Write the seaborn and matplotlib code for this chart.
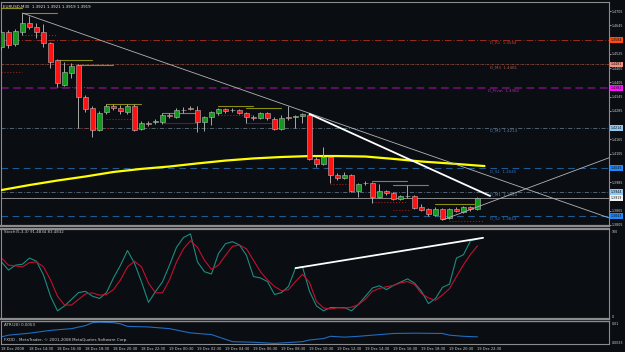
import numpy as np
import pandas as pd
import matplotlib
matplotlib.use("Agg")
import matplotlib.pyplot as plt
import matplotlib.transforms as mtrans
import seaborn as sns

# ---------------- data (EURUSD M30) ----------------
opens = [1.4554, 1.4617, 1.4567, 1.4617, 1.4655, 1.4638, 1.4617, 1.4571, 1.4499, 1.4394,
         1.4445, 1.4478, 1.4344, 1.4297, 1.4205, 1.4281, 1.4306, 1.4297, 1.4281, 1.4306,
         1.4209, 1.4234, 1.4238, 1.4238, 1.4268, 1.4260, 1.4289, 1.4297, 1.4289, 1.4238,
         1.4260, 1.4276, 1.4293, 1.4289, 1.4289, 1.4276, 1.4260, 1.4255, 1.4276, 1.4251,
         1.4209, 1.4260, 1.4260, 1.4264, 1.4268, 1.4083, 1.4062, 1.4091, 1.4015, 1.4003,
         1.4015, 1.3948, 1.3982, 1.3982, 1.3923, 1.3948, 1.3939, 1.3914, 1.3927, 1.3927,
         1.3881, 1.3872, 1.3847, 1.3872, 1.3834, 1.3872, 1.3859, 1.3881, 1.3872]
highs = [1.4626, 1.4626, 1.4630, 1.4697, 1.4685, 1.4655, 1.4651, 1.4575, 1.4504, 1.4491,
         1.4487, 1.4483, 1.4352, 1.4306, 1.4285, 1.4314, 1.4314, 1.4310, 1.4314, 1.4314,
         1.4243, 1.4243, 1.4251, 1.4276, 1.4276, 1.4297, 1.4302, 1.4306, 1.4306, 1.4264,
         1.4285, 1.4297, 1.4297, 1.4297, 1.4293, 1.4281, 1.4268, 1.4281, 1.4281, 1.4260,
         1.4268, 1.4306, 1.4268, 1.4276, 1.4272, 1.4091, 1.4133, 1.4095, 1.4024, 1.4028,
         1.4019, 1.3982, 1.3990, 1.3986, 1.3977, 1.3952, 1.3944, 1.3931, 1.3973, 1.3931,
         1.3893, 1.3876, 1.3881, 1.3876, 1.3876, 1.3881, 1.3885, 1.3885, 1.3923]
lows = [1.4542, 1.4550, 1.4558, 1.4605, 1.4630, 1.4592, 1.4554, 1.4466, 1.4386, 1.4390,
        1.4424, 1.4213, 1.4281, 1.4175, 1.4200, 1.4272, 1.4289, 1.4272, 1.4272, 1.4200,
        1.4205, 1.4222, 1.4230, 1.4230, 1.4255, 1.4255, 1.4276, 1.4289, 1.4196, 1.4200,
        1.4226, 1.4268, 1.4276, 1.4281, 1.4272, 1.4234, 1.4247, 1.4251, 1.4247, 1.4205,
        1.4205, 1.4247, 1.4213, 1.4234, 1.4078, 1.4049, 1.4057, 1.3982, 1.3994, 1.3998,
        1.3944, 1.3923, 1.3973, 1.3897, 1.3918, 1.3931, 1.3910, 1.3910, 1.3918, 1.3872,
        1.3864, 1.3843, 1.3843, 1.3826, 1.3830, 1.3859, 1.3855, 1.3864, 1.3868]
closes = [1.4617, 1.4563, 1.4621, 1.4655, 1.4638, 1.4617, 1.4571, 1.4491, 1.4403, 1.4449,
          1.4474, 1.4344, 1.4293, 1.4205, 1.4276, 1.4306, 1.4297, 1.4285, 1.4306, 1.4205,
          1.4234, 1.4232, 1.4240, 1.4268, 1.4264, 1.4289, 1.4287, 1.4293, 1.4238, 1.4260,
          1.4281, 1.4293, 1.4285, 1.4287, 1.4276, 1.4260, 1.4257, 1.4276, 1.4255, 1.4209,
          1.4255, 1.4255, 1.4264, 1.4272, 1.4083, 1.4062, 1.4091, 1.4015, 1.4003, 1.4015,
          1.3948, 1.3977, 1.3980, 1.3923, 1.3948, 1.3939, 1.3914, 1.3927, 1.3925, 1.3876,
          1.3868, 1.3851, 1.3872, 1.3830, 1.3872, 1.3864, 1.3881, 1.3872, 1.3919]

# 100-period moving average (yellow), read at sampled bars
ma_bars = [0, 4, 8, 12, 16, 20, 24, 28, 32, 36, 40, 44, 48, 52, 56, 60, 64, 68, 69]
ma_vals = [1.3952, 1.3973, 1.3992, 1.4009, 1.4028, 1.4041, 1.4051, 1.4064, 1.4076, 1.4085,
           1.4091, 1.4095, 1.4095, 1.4093, 1.4083, 1.4072, 1.4064, 1.4055, 1.4053]

# daily pivot levels
level_names = ["D_R1", "D_M3", "D_Pivot", "D_M2", "D_S1", "D_M1", "D_S2"]
level_prices = [1.4584, 1.4481, 1.4382, 1.4214, 1.4045, 1.3944, 1.3843]
bid_price = 1.3919

# price-axis tick labels
price_ticks = [1.4705, 1.4645, 1.4525, 1.4465, 1.4405, 1.4345, 1.4285,
               1.4165, 1.4105, 1.3985, 1.3865, 1.3805]

# short session high/low segments
seg_start = [0, 0, 3, 3, 8, 11, 8, 11, 15, 15, 23, 23, 31, 35, 31, 35, 47, 53, 53, 56, 56, 62, 64]
seg_end = [3, 3, 8, 8, 13, 16, 13, 16, 20, 19, 28, 28, 36, 40, 36, 38.5, 49.5, 58, 58, 61, 58.5, 67.5, 69]
seg_price = [1.4718, 1.4449, 1.4697, 1.4605, 1.4499, 1.4478, 1.4386, 1.4213, 1.4314, 1.4251,
             1.4276, 1.4234, 1.4306, 1.4297, 1.4268, 1.4234, 1.3977, 1.3990, 1.3902, 1.3973,
             1.3868, 1.3893, 1.3822]
seg_kind = ["hi", "lo", "hi", "lo", "hi", "hi", "lo", "lo", "hi", "lo",
            "mid", "pur", "hi", "hi", "lo", "pur", "lo", "mid", "lo", "mid",
            "lo", "hi", "lo"]

# trend lines (bar, price) anchors
trend_down_bars = [3, 41]
trend_down_prices = [1.4697, 1.4306]
trend_up_bars = [63, 68]
trend_up_prices = [1.3826, 1.3881]
trend_white_bars = [44, 69.8]
trend_white_prices = [1.4272, 1.3927]

# Stochastic(5,3,3)
stoch_k = [64.3, 54.7, 60.5, 61.6, 69.0, 65.1, 48.8, 23.6, 6.2, 12.0,
           19.8, 27.9, 29.4, 23.6, 20.9, 27.9, 45.3, 60.5, 77.9, 62.8,
           40.7, 16.3, 29.1, 40.7, 60.5, 81.7, 93.4, 97.7, 64.3, 52.7,
           50.0, 74.4, 86.0, 88.4, 84.5, 72.1, 46.9, 45.3, 41.0, 25.6,
           27.9, 35.2, 57.0, 58.5, 29.4, 12.0, 6.2, 10.1, 10.1, 10.1,
           6.2, 14.0, 23.6, 33.4, 36.0, 31.4, 36.4, 40.3, 44.2, 39.2,
           29.4, 14.8, 20.9, 34.1, 38.0, 69.0, 72.9, 89.5, 91.4834]
stoch_d = [69.0, 60.5, 59.7, 58.5, 63.6, 64.3, 58.5, 43.0, 23.6, 13.1,
           13.1, 19.8, 26.4, 27.6, 24.8, 25.6, 31.4, 43.0, 58.5, 65.1,
           58.5, 39.2, 27.6, 27.6, 43.0, 64.3, 79.9, 89.5, 81.7, 66.3,
           55.5, 60.5, 72.1, 82.9, 84.5, 79.9, 66.3, 52.7, 43.0, 35.2,
           30.2, 31.4, 41.0, 49.7, 40.0, 17.4, 9.7, 8.4, 9.8, 9.5,
           10.5, 13.6, 20.3, 29.4, 32.9, 34.9, 36.4, 39.5, 41.0, 37.6,
           26.7, 21.5, 18.8, 25.0, 32.6, 47.0, 61.0, 73.3, 83.4832]
stoch_trend_bars = [42, 68.8]
stoch_trend_vals = [57.0, 93.0]

# ATR(20)
atr_bars = [0, 1, 4, 7, 10, 12, 13, 14, 16, 17, 18, 21, 24, 27, 30, 33, 36, 39, 43, 44,
            46, 47, 49, 51, 53, 56, 59, 63, 64, 66, 68]
atr_vals = [0.0053, 0.0059, 0.0066, 0.0076, 0.0082, 0.0093, 0.0103, 0.0105, 0.0103, 0.0099,
            0.0090, 0.0088, 0.0082, 0.0067, 0.0061, 0.0036, 0.0034, 0.0030, 0.0036, 0.0042,
            0.0047, 0.0055, 0.0052, 0.0055, 0.0059, 0.0065, 0.0066, 0.0065, 0.0059, 0.0055,
            0.0053]

time_tick_bars = list(range(0, 69, 4))
time_labels = ["18 Dec 2008", "18 Dec 14:30", "18 Dec 16:30", "18 Dec 18:30", "18 Dec 20:30",
               "18 Dec 22:30", "19 Dec 00:30", "19 Dec 02:30", "19 Dec 04:30", "19 Dec 06:30",
               "19 Dec 08:30", "19 Dec 10:30", "19 Dec 12:30", "19 Dec 14:30", "19 Dec 16:30",
               "19 Dec 18:30", "19 Dec 20:30", "19 Dec 22:30"]

# ---------------- styling ----------------
sns.set_style("dark")
plt.rcParams['font.family'] = ['DejaVu Sans']
BG = '#0a0d12'
FS = 2.9
RFS = 2.3
TXT = '#d0d0d0'

fig = plt.figure(figsize=(6.25, 3.52), dpi=100, facecolor=BG)
L = 1 / 625
Wd = 608 / 625
ax = fig.add_axes([L, 1 - 226 / 352, Wd, 224 / 352])
ax2 = fig.add_axes([L, 1 - 319 / 352, Wd, 90 / 352])
ax3 = fig.add_axes([L, 1 - 344 / 352, Wd, 23 / 352])
XL = (-0.07, 86.79)
for a in (ax, ax2, ax3):
    a.set_facecolor(BG)
    a.set_xlim(XL)
    a.grid(False)
    for s in a.spines.values():
        s.set_color('#8c8c8c')
        s.set_linewidth(0.8)
ax.spines['bottom'].set_linewidth(1.6)
ax2.spines['top'].set_linewidth(1.6)
ax2.spines['bottom'].set_linewidth(1.6)
ax3.spines['top'].set_linewidth(1.0)
ax.set_ylim(1.380054, 1.474358)

df = pd.DataFrame(dict(bar=np.arange(len(opens)), o=opens, h=highs, l=lows, c=closes))
blend = mtrans.blended_transform_factory(ax.transAxes, ax.transData)

# pivot levels
lvl_style = {
    "D_R1": dict(color='#9a2a1e', dashes=(7, 2, 1, 2), lw=0.7, txt='#c0402a', box='#ff4a10'),
    "D_M3": dict(color='#8a4a3a', dashes=(3, 1, 1, 1), lw=0.6, txt='#a85a48', box='#f49080'),
    "D_Pivot": dict(color='#7a107a', dashes=(5, 3), lw=1.1, txt='#a030a0', box='#ff10ff'),
    "D_M2": dict(color='#5a7080', dashes=(5, 2, 1, 2), lw=0.6, txt='#4f80a8', box='#90c8f0'),
    "D_S1": dict(color='#1f5a90', dashes=(6, 4), lw=0.8, txt='#3070c0', box='#1e88ff'),
    "D_M1": dict(color='#5a7080', dashes=(5, 2, 1, 2), lw=0.6, txt='#4f80a8', box='#90c8f0'),
    "D_S2": dict(color='#1f5a90', dashes=(6, 4), lw=0.8, txt='#3070c0', box='#1e88ff'),
}
for name, p in zip(level_names, level_prices):
    st = lvl_style[name]
    ax.axhline(p, color=st['color'], lw=st['lw'], dashes=st['dashes'], zorder=1)
    ax.text(71.7, p - 0.0004, f"{name}  {p:.4f}", color=st['txt'], fontsize=FS,
            ha='center', va='top', zorder=2)
    ax.text(1.003, p, f"{p:.4f}", transform=blend, fontsize=RFS, color='#101010',
            ha='left', va='center', clip_on=False,
            bbox=dict(boxstyle='square,pad=0.25', fc=st['box'], ec='none'))
ax.axhline(bid_price, color='#8a8a8a', lw=0.7, zorder=1)
ax.text(1.003, bid_price, f"{bid_price:.4f}", transform=blend, fontsize=RFS, color='#101010',
        ha='left', va='center', clip_on=False,
        bbox=dict(boxstyle='square,pad=0.25', fc='#f4f4f4', ec='none'))

# session segments
seg_style = {"hi": ('#8c8c14', '-'), "lo": ('#a01c1c', ':'),
             "mid": ('#7c7c70', '-'), "pur": ('#5a1460', '-')}
for s0, s1, p, k in zip(seg_start, seg_end, seg_price, seg_kind):
    c, ls = seg_style[k]
    ax.plot([s0, s1], [p, p], color=c, ls=ls, lw=0.8, zorder=2)

# moving average
sns.lineplot(x=ma_bars, y=ma_vals, ax=ax, color='#ffff00', lw=1.6, zorder=3,
             estimator=None, sort=False)

# candles
up = df.c >= df.o
ax.vlines(df.bar, df.l, df.h, color='#a8a8a8', lw=0.7, zorder=4)
body_bot = np.minimum(df.o, df.c)
body_h = np.maximum((df.c - df.o).abs(), 0.00028)
ax.bar(df.bar, body_h, bottom=body_bot, width=0.72,
       color=np.where(up, '#129a1a', '#ff1212'), edgecolor='#b8b8b8',
       linewidth=0.4, zorder=5)

# trend lines
def extend(bx, py, x_end):
    slope = (py[1] - py[0]) / (bx[1] - bx[0])
    return [bx[0], x_end], [py[0], py[0] + slope * (x_end - bx[0])]

xs, ys = extend(trend_down_bars, trend_down_prices, XL[1])
ax.plot(xs, ys, color='#b4b4b4', lw=0.6, zorder=6)
xs, ys = extend(trend_up_bars, trend_up_prices, XL[1])
ax.plot(xs, ys, color='#b4b4b4', lw=0.6, zorder=6)
ax.plot(trend_white_bars, trend_white_prices, color='#ffffff', lw=1.3, zorder=6)

ax.yaxis.tick_right()
ax.set_yticks(price_ticks)
ax.set_yticklabels([f"{v:.4f}" for v in price_ticks])
ax.tick_params(axis='y', labelsize=RFS, colors=TXT, length=1.5, width=0.5, pad=0.5)
ax.tick_params(axis='x', bottom=False, labelbottom=False)
ax.set_xlabel('')
ax.set_ylabel('')

# stochastic panel
bars = np.arange(len(stoch_k))
sns.lineplot(x=bars, y=stoch_k, ax=ax2, color='#1c8c80', lw=0.8, estimator=None, sort=False)
sns.lineplot(x=bars, y=stoch_d, ax=ax2, color='#c0122e', lw=0.8, estimator=None, sort=False)
ax2.plot(stoch_trend_bars, stoch_trend_vals, color='#ffffff', lw=1.3)
ax2.set_ylim(-3.5, 103.5)
ax2.yaxis.tick_right()
ax2.set_yticks([0, 100])
ax2.set_yticklabels(['0', '100'])
ax2.tick_params(axis='y', labelsize=RFS, colors=TXT, length=0, pad=2)
ax2.tick_params(axis='x', bottom=False, labelbottom=False)
ax2.set_xlabel('')
ax2.set_ylabel('')
ax2.text(0.005, 0.985, "Stoch(5,3,3) 91.4834 83.4832", transform=ax2.transAxes,
         fontsize=FS, color=TXT, ha='left', va='top')

# ATR panel
sns.lineplot(x=atr_bars, y=atr_vals, ax=ax3, color='#1f6cc0', lw=0.8, estimator=None, sort=False)
ax3.set_ylim(0.00278, 0.0109)
ax3.yaxis.tick_right()
ax3.set_yticks([0.0033, 0.0100])
ax3.set_yticklabels(['0.0033', '0.01'])
ax3.tick_params(axis='y', labelsize=RFS, colors=TXT, length=0, pad=2)
ax3.set_xticks(time_tick_bars)
ax3.set_xticklabels(time_labels, ha='left')
ax3.tick_params(axis='x', labelsize=2.6, colors=TXT, length=1.5, width=0.5, pad=0.8)
ax3.set_xlabel('')
ax3.set_ylabel('')
ax3.text(0.005, 0.93, "ATR(20) 0.0053", transform=ax3.transAxes,
         fontsize=FS, color=TXT, ha='left', va='top')
ax3.text(0.005, 0.08, "FXDD - MetaTrader, \u00a9 2001-2008 MetaQuotes Software Corp.",
         transform=ax3.transAxes, fontsize=FS, color=TXT, ha='left', va='bottom')

ax.text(0.004, 0.985, "EURUSD,M30  1.3921 1.3921 1.3919 1.3919", transform=ax.transAxes,
        fontsize=FS, color='#e8e8e8', ha='left', va='top')

fig.savefig("out.png", dpi=100, facecolor=BG)
